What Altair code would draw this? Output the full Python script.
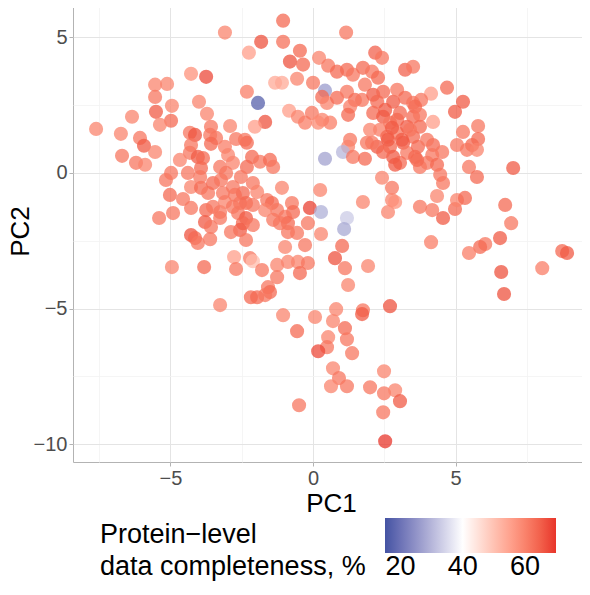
import altair as alt
import pandas as pd

pc1 = [
    -1.05, 1.16, -3.09, -1.82, -2.25, -1.05, -0.46, -0.81, -0.35, 0.21,
    0.53, 0.84, 1.19, 1.40, 1.75, 2.07, 2.18, 2.42, 3.23, 3.51,
    2.28, 1.82, -0.56, -1.33, -1.09, -2.32, -1.93, 0.42, 0.00, 0.32,
    0.49, 0.84, 1.19, 1.47, 1.72, 1.30, 1.23, 2.11, 2.25, 2.46,
    2.81, 2.95, 3.23, 3.51, -0.84, -0.53, -0.28, -0.04, 0.32, 0.60,
    0.18, -1.68, -2.04, 2.11, 2.46, 2.70, 2.95, 2.35, 2.60, 2.95,
    3.30, 3.51, 2.00, 1.89, 2.25, 2.70, 3.16, 3.51, 3.30, 2.81,
    3.05, 1.30, 1.23, 1.05, 1.40, 1.82, 0.42, -2.39, -2.32, -2.14,
    -1.86, -1.51, -1.40, -2.32, 4.70, 4.14, 5.26, 4.98, 3.79, 3.58,
    3.75, 4.21, 3.75, 3.40, 5.79, 5.26, 5.79, 5.58, 5.40, 5.75,
    5.05, 4.21, 4.53, 4.18, 3.58, 4.00, 4.35, 3.75, 5.47, 7.02,
    -4.28, -3.75, -5.54, -5.12, -5.54, -4.95, -4.00, -5.51, -6.35, -3.72,
    -4.98, -5.37, -7.61, -6.74, -6.07, -5.93, -5.54, -6.70, -6.21, -5.89,
    -2.91, -3.58, -4.32, -4.14, -3.61, -3.40, -2.70, -4.28, -3.58, -3.09,
    -4.32, -4.04, -3.86, -2.98, -4.67, -3.26, -2.81, -5.16, -4.98, -4.39,
    -5.02, -4.56, -4.28, -4.28, -4.91, -5.40, -3.93, -3.68, -3.51, -3.23,
    -3.05, -2.53, -3.75, -3.51, -3.26, -3.79, -3.58, -3.26, -3.09, -3.16,
    -2.74, -2.46, -2.56, -2.35, -2.63, -2.35, -2.46, -2.56, -2.88, -4.28,
    -4.14, -4.04, -3.61, -2.35, -2.77, -2.70, -2.21, -4.95, -3.82, -3.26,
    -2.18, -2.11, -2.11, -1.96, -1.09, -2.11, -1.61, -1.44, -1.26, -0.74,
    -0.70, -0.98, -0.88, -1.16, -1.40, -1.68, -0.88, 0.25, -0.11, 0.28,
    -0.18, 0.28, 1.19, 1.09, -0.28, -0.98, 1.02, 0.77, 1.12, 1.93,
    1.23, -2.11, -1.79, -1.26, -1.26, -0.88, -0.53, -0.18, -0.46, -1.58,
    -1.51, -1.96, -1.68, 2.42, 2.77, 2.77, 2.63, 2.88, 3.75, 1.75,
    4.46, 4.56, 5.75, 4.35, 4.18, 4.56, 4.98, 5.05, 5.33, 6.74,
    6.95, 4.14, 6.56, 6.04, 5.86, 5.47, 6.60, 6.70, 8.04, 8.74,
    8.91, 2.70, -1.05, -0.56, 0.07, 0.81, 0.70, 1.75, 1.72, 1.12,
    1.19, 0.53, 0.49, 0.18, 1.37, 0.70, 0.91, 0.63, 1.19, 2.00,
    2.49, 2.49, 2.88, 3.05, 2.46, 2.53, -0.49, 2.53, 2.77, 2.63,
    3.05, 3.12, 2.46, 3.68, 4.00, 2.07, 2.88, 3.65, -3.93, -3.96,
    -2.81, -2.81, -0.56,
]

pc2 = [
    5.61, 5.17, 5.17, 4.83, 4.43, 4.83, 4.50, 4.10, 3.99, 4.24,
    3.95, 3.73, 3.80, 3.62, 3.87, 3.73, 4.43, 4.24, 3.80, 3.91,
    3.51, 3.25, 3.47, 3.32, 3.32, 2.99, 2.58, 3.03, 3.32, 2.80,
    2.58, 2.77, 2.99, 2.69, 2.69, 2.44, 2.14, 2.88, 2.62, 2.99,
    2.62, 3.06, 2.77, 2.58, 2.29, 2.07, 1.85, 2.21, 1.96, 1.85,
    1.85, 1.88, 1.70, 2.21, 2.07, 1.85, 1.96, 1.59, 1.33, 1.48,
    1.70, 2.07, 1.59, 1.11, 0.96, 0.96, 1.11, 1.33, 0.74, 0.59,
    0.37, 1.22, 0.96, 0.77, 0.59, 0.52, 0.52, 1.22, 1.11, 0.59,
    0.41, 0.48, 0.22, 0.22, 3.14, 2.92, 2.62, 2.25, 2.69, 2.44,
    2.14, 1.88, 1.70, 1.59, 1.73, 1.51, 1.25, 1.03, 0.85, 0.85,
    1.03, 1.03, 0.77, 0.66, 0.59, 0.37, 0.30, 0.22, 0.22, 0.18,
    3.65, 3.54, 3.25, 3.28, 2.80, 2.47, 2.62, 2.25, 2.07, 2.18,
    1.92, 1.77, 1.62, 1.44, 1.29, 1.00, 0.77, 0.63, 0.37, 0.30,
    1.73, 1.70, 1.48, 1.40, 1.40, 1.29, 1.25, 1.03, 1.07, 0.96,
    0.74, 0.59, 0.55, 0.66, 0.48, 0.22, 0.37, -0.26, 0.00, 0.00,
    -0.81, -0.96, -0.52, -1.29, -1.48, -1.66, -0.55, -0.74, -0.37, -0.26,
    0.00, -0.15, -1.37, -1.25, -1.44, -1.81, -1.99, -1.66, -1.07, -0.74,
    -0.81, -0.74, -1.11, -1.11, -1.48, -1.66, -1.85, -2.10, -2.18, -2.29,
    -2.40, -2.58, -2.44, -2.47, -3.10, -3.54, -3.14, -3.47, -3.47, -4.87,
    -4.58, -1.92, -0.37, -0.70, -0.55, -1.18, -1.00, -1.11, -1.37, -1.11,
    -1.44, -1.62, -1.85, -1.85, -1.73, -1.37, -2.18, -0.63, -1.29, -1.44,
    -1.85, -2.25, -1.66, -2.07, -2.66, -2.73, -2.69, -3.14, -3.51, -3.43,
    -4.13, -3.25, -3.58, -3.39, -3.84, -3.28, -3.28, -3.32, -3.69, -4.21,
    -4.39, -4.58, -4.50, -0.18, -0.55, -1.00, -1.44, -1.07, -1.25, -1.07,
    -0.07, -0.37, -0.15, -0.85, -1.37, -1.66, -1.33, -1.00, -0.92, -1.18,
    -1.85, -2.55, -2.40, -2.62, -2.73, -2.95, -3.65, -4.46, -3.51, -2.88,
    -2.95, -4.91, -5.24, -5.83, -5.31, -5.02, -5.46, -5.06, -5.20, -5.72,
    -6.13, -6.05, -6.42, -6.57, -6.64, -7.20, -7.56, -7.86, -7.86, -7.90,
    -7.31, -8.12, -8.01, -8.41, -8.82, -9.89, -8.56, 2.32, 1.66, 1.22,
    2.21, 1.22, 0.77, 0.96, 1.22, 1.11, 0.30, 0.48, 0.18, -0.15,
    -0.52, -1.25, -2.21,
]

completeness = [
    64, 62, 60, 67, 56, 63, 64, 67, 64, 60,
    62, 64, 64, 62, 64, 62, 65, 62, 65, 62,
    64, 62, 60, 54, 54, 61, 17, 26, 62, 64,
    60, 64, 62, 64, 62, 61, 64, 66, 64, 64,
    66, 62, 64, 62, 56, 60, 61, 62, 60, 61,
    59, 67, 56, 64, 66, 62, 64, 61, 64, 62,
    66, 64, 60, 62, 66, 64, 66, 64, 62, 66,
    64, 62, 60, 30, 62, 64, 27, 62, 64, 64,
    62, 64, 62, 64, 64, 56, 66, 66, 62, 64,
    62, 56, 64, 62, 62, 62, 64, 64, 62, 60,
    62, 64, 62, 62, 64, 62, 64, 62, 62, 66,
    58, 68, 60, 60, 62, 60, 60, 66, 60, 60,
    64, 60, 60, 60, 62, 66, 60, 62, 62, 60,
    60, 62, 62, 67, 62, 62, 62, 62, 64, 61,
    62, 66, 64, 60, 60, 62, 60, 62, 62, 62,
    64, 62, 60, 62, 62, 62, 64, 62, 64, 62,
    62, 62, 64, 62, 62, 66, 62, 62, 60, 62,
    62, 64, 62, 64, 62, 66, 64, 66, 62, 67,
    64, 62, 62, 62, 56, 62, 62, 60, 64, 60,
    64, 62, 62, 60, 60, 62, 62, 64, 62, 62,
    64, 62, 64, 62, 62, 60, 62, 60, 69, 29,
    62, 60, 33, 28, 62, 60, 64, 67, 62, 60,
    60, 51, 62, 60, 62, 60, 60, 62, 64, 62,
    64, 64, 62, 60, 62, 60, 60, 58, 62, 60,
    62, 62, 64, 60, 62, 66, 64, 60, 64, 64,
    62, 61, 66, 62, 64, 61, 67, 67, 61, 64,
    66, 67, 60, 64, 60, 60, 60, 62, 66, 64,
    62, 60, 62, 68, 62, 60, 62, 60, 62, 62,
    60, 62, 60, 66, 62, 70, 62, 66, 66, 66,
    64, 66, 64, 64, 62, 62, 66, 64, 64, 62,
    62, 62, 62,
]

x_ticks = [-7.5, -5, -2.5, 0, 2.5, 5, 7.5]
y_ticks = [5, 2.5, 0, -2.5, -5, -7.5, -10]
legend_values = [20, 40, 60]
legend_title = ["Protein\u2212level\ndata completeness, %"]

df = pd.DataFrame({"PC1": pc1, "PC2": pc2, "completeness": completeness})

FONT = "Liberation Sans"
minor_test = "abs(datum.value % 5) > 0.01"


def axis(title, values, **kw):
    return alt.Axis(
        title=title,
        values=values,
        labelExpr=f"{minor_test} ? '' : datum.label",
        gridColor={"condition": {"test": minor_test, "value": "#F2F2F2"}, "value": "#E4E4E4"},
        gridWidth={"condition": {"test": minor_test, "value": 0.8}, "value": 1},
        tickOpacity={"condition": {"test": minor_test, "value": 0}, "value": 1},
        tickColor="#B3B3B3",
        tickSize=4,
        domain=False,
        labelFont=FONT,
        labelFontSize=20,
        labelColor="#4D4D4D",
        titleFont=FONT,
        titleFontSize=26,
        titleFontWeight="normal",
        titleColor="black",
        **kw,
    )


points = alt.Chart(df).mark_circle(size=200, fillOpacity=0.74).encode(
    x=alt.X("PC1:Q", scale=alt.Scale(domain=[-8.42, 9.68], nice=False, zero=False),
            axis=axis("PC1", x_ticks, labelPadding=2, titlePadding=2)),
    y=alt.Y("PC2:Q", scale=alt.Scale(domain=[-10.65, 6.37], nice=False, zero=False),
            axis=axis("PC2", y_ticks, labelPadding=2, titlePadding=0)),
    color=alt.Color(
        "completeness:Q",
        scale=alt.Scale(domain=[15, 40, 70], range=["#4453A3", "#FFFFFF", "#E8352A"], interpolate="lab"),
        legend=alt.Legend(
            orient="none",
            legendX=312,
            legendY=518,
            direction="horizontal",
            title=None,
            gradientLength=171,
            gradientThickness=35,
            gradientStrokeWidth=0,
            values=legend_values,
            labelFont=FONT,
            labelFontSize=27,
            labelColor="black",
            labelOffset=1,
            labelOverlap=False,
        ),
    ),
)

title_text = alt.Chart(pd.DataFrame({"t": legend_title})).mark_text(
    align="left", baseline="alphabetic", lineBreak="\n", lineHeight=32,
    font=FONT, fontSize=27, color="black",
).encode(x=alt.value(27), y=alt.value(543), text="t:N")

chart = alt.layer(points, title_text).properties(
    width=516,
    height=462,
    padding={"left": 65, "top": -8, "right": -7, "bottom": 120},
    autosize="none",
).configure_view(stroke="#B3B3B3", strokeWidth=1)

chart.save("out.html", embed_options={"renderer": "svg", "actions": False})
